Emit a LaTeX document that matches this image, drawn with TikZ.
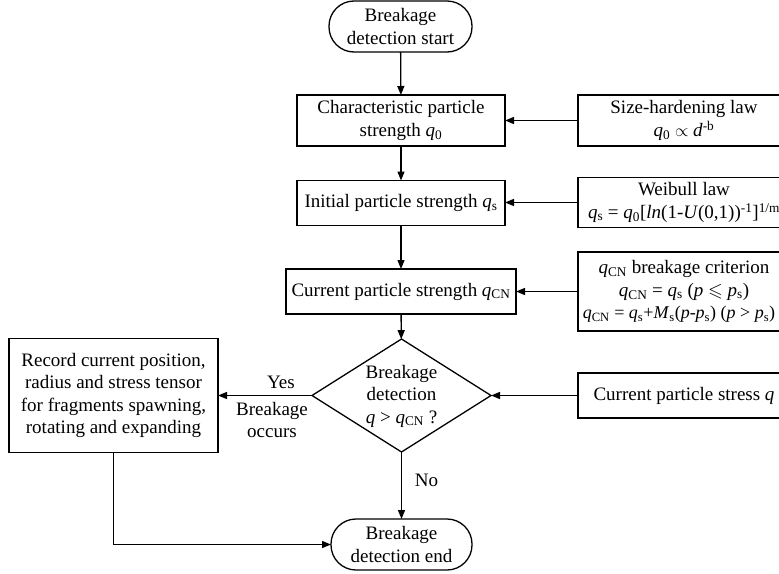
\documentclass[tikz,border=0pt]{standalone}
\usepackage{fontspec}
\usepackage{amssymb}
\setmainfont{Liberation Serif}
\usetikzlibrary{arrows.meta,shapes.geometric}
% italic q with an upright subscript
\newcommand{\qsb}[1]{\textit{q}\textsubscript{#1}}
\newcommand{\psb}{\textit{p}\textsubscript{s}}
\begin{document}
\begin{tikzpicture}[x=1pt,y=-1pt,
  font=\fontsize{19}{22.5}\selectfont,
  every node/.style={inner sep=0pt, outer sep=0pt},
  box/.style={draw, line width=1.3pt, align=center},
  term/.style={draw, line width=1.3pt, rounded corners=25pt, align=center},
  decision/.style={draw, line width=1.3pt, diamond},
  link/.style={line width=1.3pt, -{Triangle[length=9pt,width=7pt]}},
]
\useasboundingbox (0,0) rectangle (779,573);

% main column
\node[term, minimum width=143pt, minimum height=51pt] (start) at (400.5,26.5)
  {Breakage\\detection start};
\node[box, minimum width=208pt, minimum height=51pt] (b1) at (401,120.5)
  {Characteristic particle\\strength \qsb{0}};
\node[box, minimum width=208pt, minimum height=45pt] (b2) at (401,203)
  {Initial particle strength \qsb{s}};
\node[box, minimum width=230pt, minimum height=45pt] (b3) at (401,291.5)
  {Current particle strength \qsb{CN}};
\node[decision, minimum width=179pt, minimum height=113pt] (dec) at (401.5,395.5) {};
\node[align=center] (dectext) at (401.5,396)
  {Breakage\\detection\\\textit{q} > \qsb{CN} ?};
\node[term, minimum width=141pt, minimum height=51pt] (fin) at (401.5,544.5)
  {Breakage\\detection end};

% side inputs
\node[box, minimum width=212pt, minimum height=51pt] (sh) at (684,120.5)
  {Size-hardening law\\\qsb{0} $\propto$ \textit{d}\textsuperscript{-b}};
\node[box, minimum width=212pt, minimum height=50pt] (wb) at (684,202.5)
  {Weibull law\\\qsb{s} = \qsb{0}[\textit{ln}(1-\textit{U}(0,1))\textsuperscript{-1}]\textsuperscript{1/m}};
\node[box, minimum width=212pt, minimum height=79pt] (cr) at (684,291.5)
  {\qsb{CN} breakage criterion\\
   \qsb{CN} = \qsb{s} (\textit{p} $\leqslant$\ \psb)\\
   {\fontsize{18}{22.5}\selectfont\hspace*{-10pt}\qsb{CN} = \qsb{s}+\textit{M}\textsubscript{s}(\textit{p}-\psb) (\textit{p} > \psb)}};
\node[box, minimum width=212pt, minimum height=45pt] (st) at (684,395.5)
  {Current particle stress \textit{q}};

% breakage branch
\node[box, minimum width=209pt, minimum height=114pt] (rec) at (113.5,395.5)
  {Record current position,\\radius and stress tensor\\for fragments spawning,\\rotating and expanding};

% connectors
\draw[link] (start) -- (b1);
\draw[link] (b1) -- (b2);
\draw[link] (b2) -- (b3);
\draw[link] (b3) -- (dec);
\draw[link] (dec) -- (fin);
\draw[link] (sh.west) -- (sh.west -| b1.east);
\draw[link] (wb.west) -- (wb.west -| b2.east);
\draw[link] (cr.west) -- (cr.west -| b3.east);
\draw[link] (st.west) -- (dec.east);
\draw[link] (dec.west) -- (rec.east);
\draw[link] (rec.south) |- (fin.west);

% branch labels
\node (yes) at (281,382) {Yes};
\node[align=center] (occ) at (272,420) {Breakage\\occurs};
\node (no) at (426.5,480.5) {No};
\end{tikzpicture}
\end{document}
